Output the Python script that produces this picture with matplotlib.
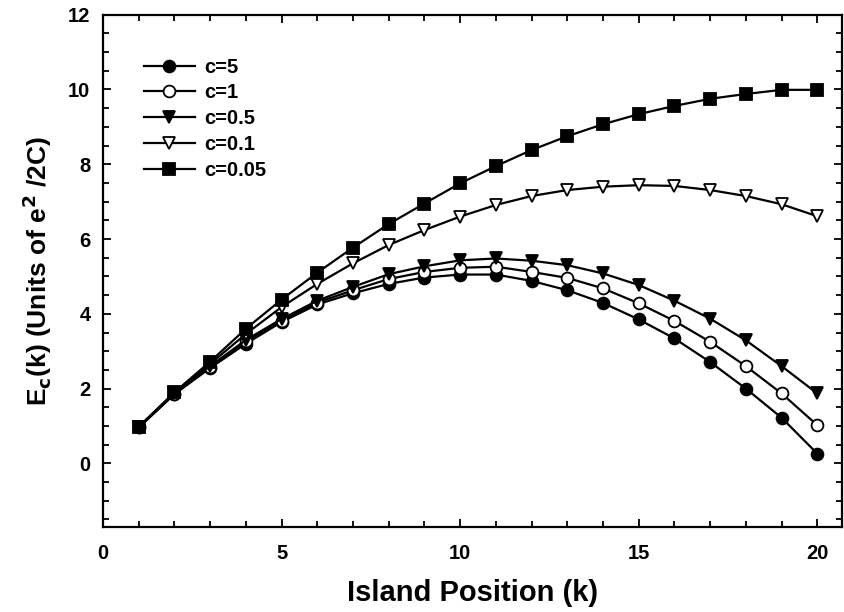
"""
Charging energy vs island position
"""

import matplotlib
matplotlib.use("Agg")
import matplotlib.pyplot as plt
from matplotlib.ticker import MultipleLocator

plt.rcParams['font.family'] = ['Liberation Sans', 'DejaVu Sans']
plt.rcParams['font.weight'] = 'bold'

k = list(range(1, 21))

c5 = [0.96, 1.85, 2.55, 3.2, 3.78, 4.25, 4.55, 4.8, 4.97, 5.05,
      5.05, 4.88, 4.63, 4.29, 3.85, 3.34, 2.71, 2.0, 1.22, 0.26]
c1 = [0.96, 1.86, 2.58, 3.26, 3.82, 4.3, 4.63, 4.93, 5.12, 5.23,
      5.26, 5.12, 4.96, 4.68, 4.28, 3.81, 3.25, 2.6, 1.87, 1.02]
c05 = [0.96, 1.87, 2.6, 3.3, 3.86, 4.35, 4.72, 5.06, 5.27, 5.43,
       5.48, 5.42, 5.3, 5.08, 4.77, 4.35, 3.87, 3.29, 2.6, 1.87]
c01 = [0.97, 1.88, 2.66, 3.46, 4.18, 4.8, 5.35, 5.84, 6.24, 6.6,
       6.91, 7.15, 7.31, 7.4, 7.44, 7.42, 7.31, 7.15, 6.93, 6.61]
c005 = [0.98, 1.9, 2.72, 3.6, 4.38, 5.1, 5.77, 6.4, 6.95, 7.49,
        7.95, 8.38, 8.75, 9.07, 9.34, 9.56, 9.75, 9.88, 9.99, 9.99]

labels = ["c=5", "c=1", "c=0.5", "c=0.1", "c=0.05"]


def main():
    fig = plt.figure(figsize=(8.44, 6.12), dpi=100)
    ax = fig.add_axes([0.122, 0.139, 0.876, 0.837])

    style = dict(color="black", lw=1.6, mec="black", mew=1.3)
    ax.plot(k, c5, marker="o", ms=8.5, mfc="black", label=labels[0], **style)
    ax.plot(k, c1, marker="o", ms=8.5, mfc="white", label=labels[1], **style)
    ax.plot(k, c05, marker="v", ms=9, mfc="black", label=labels[2], **style)
    ax.plot(k, c01, marker="v", ms=9, mfc="white", label=labels[3], **style)
    ax.plot(k, c005, marker="s", ms=8, mfc="black", label=labels[4], **style)

    ax.set_xlim(0, 20.7)
    ax.set_ylim(-1.7, 12)
    ax.xaxis.set_major_locator(MultipleLocator(5))
    ax.xaxis.set_minor_locator(MultipleLocator(1))
    ax.yaxis.set_major_locator(MultipleLocator(2))
    ax.yaxis.set_minor_locator(MultipleLocator(0.5))
    ax.tick_params(which="both", direction="in", top=True, right=True,
                   width=1.3, labelsize=14.5)
    ax.tick_params(which="major", length=6, pad=9)
    ax.tick_params(axis="x", which="major", pad=12)
    ax.tick_params(which="minor", length=4)
    for s in ax.spines.values():
        s.set_linewidth(1.6)

    ax.set_xlabel("Island Position (k)", fontsize=21, fontweight="bold", labelpad=12)
    ax.set_ylabel(r"E$_\mathbf{c}$(k) (Units of e$^\mathbf{2}$ /2C)", fontsize=19,
                  fontweight="bold", labelpad=10)

    ax.legend(loc="upper left", bbox_to_anchor=(0.045, 0.932), frameon=False,
              fontsize=14.5, handlelength=2.5, labelspacing=0.34,
              handletextpad=0.5, borderaxespad=0)

    fig.savefig("out.png", dpi=100)


if __name__ == "__main__":
    main()
